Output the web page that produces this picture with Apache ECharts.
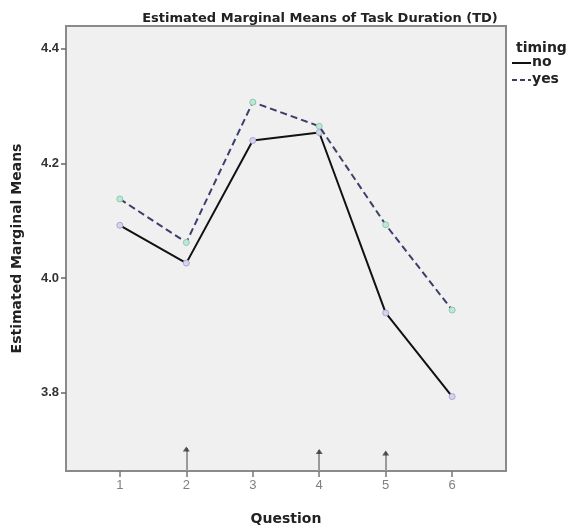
<!DOCTYPE html>
<html><head><meta charset="utf-8">
<script src="https://cdn.jsdelivr.net/npm/echarts@6/dist/echarts.min.js"></script>
<style>html,body{margin:0;padding:0;background:#fff}#c{width:580px;height:529px}</style>
</head><body><div id="c"></div>
<script>
const questions = [1, 2, 3, 4, 5, 6];
const noValues = [4.092, 4.026, 4.240, 4.254, 3.939, 3.793];
const yesValues = [4.138, 4.062, 4.307, 4.265, 4.093, 3.944];
const yTicks = [3.8, 4.0, 4.2, 4.4];
const arrowQuestions = [2, 4, 5];
const arrowTops = [3.703, 3.699, 3.696];
const yMin = 3.663, yMax = 4.44;

const chart = echarts.init(document.getElementById('c'), null, {renderer: 'canvas'});
const bold = 'DejaVu Sans, sans-serif';
const font = 'Liberation Sans, Arial, sans-serif';
const arrowLines = arrowQuestions.map((q, i) => [{coord: [q, yMin]}, {coord: [q, arrowTops[i]]}]);
const noColor = '#111111', yesColor = '#3d3f6b';
chart.setOption({
  animation: false,
  backgroundColor: '#ffffff',
  title: [
    {text: 'Estimated Marginal Means of Task Duration (TD)', left: 315, top: 7, textAlign: 'center',
     textStyle: {fontFamily: bold, fontSize: 13, fontWeight: 'bold', color: '#222'}},
    {text: 'timing', left: 511, top: 36,
     textStyle: {fontFamily: bold, fontSize: 14, fontWeight: 'bold', color: '#222'}}
  ],
  graphic: [
    {type: 'line', shape: {x1: 512, y1: 63, x2: 531, y2: 63}, style: {stroke: noColor, lineWidth: 2}},
    {type: 'text', x: 532, y: 62, style: {text: 'no', font: 'bold 14px DejaVu Sans', fill: '#222', verticalAlign: 'middle'}},
    {type: 'line', shape: {x1: 512, y1: 80, x2: 531, y2: 80}, style: {stroke: yesColor, lineWidth: 2, lineDash: [5, 3]}},
    {type: 'text', x: 532, y: 79, style: {text: 'yes', font: 'bold 14px DejaVu Sans', fill: '#222', verticalAlign: 'middle'}}
  ],
  grid: {left: 66, right: 74, top: 26, bottom: 58, show: true, backgroundColor: '#f0f0f0',
         borderColor: '#8a8a8a', borderWidth: 2, containLabel: false, outerBoundsMode: 'none'},
  xAxis: {
    type: 'value', min: 0.19, max: 6.81,
    name: 'Question', nameLocation: 'middle', nameGap: 41,
    nameTextStyle: {fontFamily: bold, fontSize: 14, fontWeight: 'bold', color: '#222'},
    axisLine: {show: false},
    splitLine: {show: false},
    axisTick: {show: true, length: 6, lineStyle: {color: '#777', width: 1.5}, customValues: questions},
    axisLabel: {customValues: questions, fontFamily: font, fontSize: 13, color: '#808080', margin: 8}
  },
  yAxis: {
    type: 'value', min: yMin, max: yMax,
    name: 'Estimated Marginal Means', nameLocation: 'middle', nameGap: 42,
    nameTextStyle: {fontFamily: bold, fontSize: 14, fontWeight: 'bold', color: '#222'},
    axisLine: {show: false},
    splitLine: {show: false},
    axisTick: {show: true, length: 5, lineStyle: {color: '#666', width: 1.5}, customValues: yTicks},
    axisLabel: {customValues: yTicks, fontFamily: font, fontSize: 13, fontWeight: 'bold', color: '#333', margin: 7,
                formatter: v => v.toFixed(1)}
  },
  series: [
    {name: 'no', type: 'line', data: questions.map((q, i) => [q, noValues[i]]),
     symbol: 'circle', symbolSize: 6, showSymbol: true,
     lineStyle: {color: noColor, width: 2, type: 'solid'},
     itemStyle: {color: '#d4d4ec', borderColor: '#a8a8d0', borderWidth: 1}, z: 3},
    {name: 'yes', type: 'line', data: questions.map((q, i) => [q, yesValues[i]]),
     symbol: 'circle', symbolSize: 6, showSymbol: true,
     lineStyle: {color: yesColor, width: 2, type: [7, 4]},
     itemStyle: {color: '#c2e6d6', borderColor: '#8ccab0', borderWidth: 1}, z: 4},
    {name: 'arrows', type: 'scatter', data: arrowQuestions.map((q, i) => [q, arrowTops[i]]),
     symbol: 'triangle', symbolSize: [7, 5], symbolOffset: [0, 1], itemStyle: {color: '#333'}, z: 5,
     markLine: {silent: true, symbol: ['none', 'none'], label: {show: false},
                lineStyle: {color: '#9a9a9a', width: 2, type: 'solid'}, data: arrowLines}}
  ]
});
</script></body></html>
